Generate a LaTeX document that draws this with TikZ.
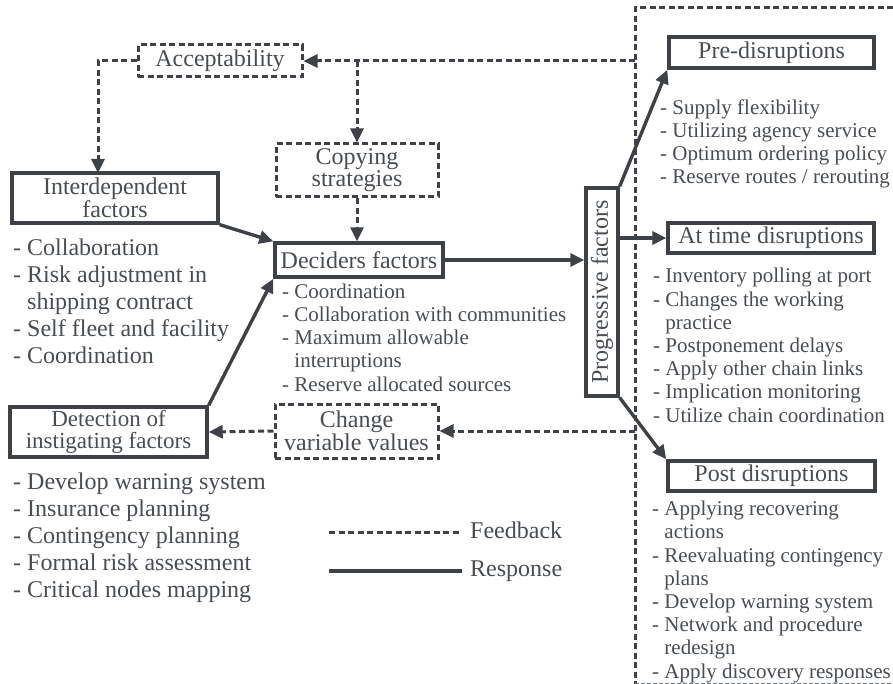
\documentclass[tikz,border=0pt]{standalone}
\usepackage{fontspec}
\setmainfont{Liberation Serif}
\usetikzlibrary{arrows.meta,calc}
\definecolor{dk}{RGB}{62,66,70}
\definecolor{txt}{RGB}{72,77,82}
\begin{document}
\begin{tikzpicture}[x=1pt,y=-1pt,
  titlefont/.style={font=\fontsize{24}{20}\selectfont},
  bigfont/.style={font=\fontsize{24}{27}\selectfont},
  smallfont/.style={font=\fontsize{21}{23.2}\selectfont},
  solidbox/.style={draw=dk,line width=3.4pt,text=txt,inner sep=0pt,align=center,titlefont},
  dashbox/.style={draw=dk,line width=3pt,dash pattern=on 6pt off 3.5pt,text=txt,inner sep=0pt,align=center,titlefont},
  listtext/.style={text=txt,inner sep=0pt,align=left,anchor=base west},
  tip/.style={-{Triangle[length=14pt,width=13pt]}},
  resp/.style={draw=dk,line width=3.4pt,tip},
  fb/.style={draw=dk,line width=3pt,dash pattern=on 6pt off 3.5pt,tip},
  fbline/.style={draw=dk,line width=3pt,dash pattern=on 6pt off 3.5pt},
]
\useasboundingbox (0,0) rectangle (893,684);

% boxes
\node[dashbox,minimum width=164pt,minimum height=32pt] (acc) at (220,61) {Acceptability};
\node[dashbox,minimum width=162pt,minimum height=53pt] (copy) at (357,170.5) {Copying\\strategies};
\node[solidbox,minimum width=206pt,minimum height=50pt] (inter) at (115,198) {Interdependent\\factors};
\node[solidbox,minimum width=168pt,minimum height=34pt] (dec) at (359,260) {Deciders factors};
\node[solidbox,rotate=90,minimum width=208pt,minimum height=32pt] (prog) at (602,292) {Progressive factors};
\node[solidbox,minimum width=205pt,minimum height=31pt] (pre) at (771.5,52.5) {Pre-disruptions};
\node[solidbox,minimum width=206pt,minimum height=30pt] (at) at (771,238) {At time disruptions};
\node[solidbox,minimum width=207pt,minimum height=30pt] (post) at (771.5,476) {Post disruptions};
\node[dashbox,minimum width=163pt,minimum height=54pt] (chg) at (356.5,431) {Change\\variable values};
\node[solidbox,minimum width=197pt,minimum height=50pt,font=\fontsize{23}{22.5}\selectfont] (det) at (108.5,432) {Detection of\\instigating factors};

% lists (anchored at the baseline of the last line)
\node[listtext,bigfont] (interlist) at (13,363) {- Collaboration\\- Risk adjustment in\\\hphantom{-}~shipping contract\\- Self fleet and facility\\- Coordination};
\node[listtext,bigfont] (detlist) at (13,597) {- Develop warning system\\- Insurance planning\\- Contingency planning\\- Formal risk assessment\\- Critical nodes mapping};
\node[listtext,smallfont] (declist) at (282,391) {- Coordination\\- Collaboration with communities\\- Maximum allowable\\\hphantom{-}~interruptions\\- Reserve allocated sources};
\node[listtext,smallfont] (prelist) at (660,184) {- Supply flexibility\\- Utilizing agency service\\- Optimum ordering policy\\- Reserve routes / rerouting};
\node[listtext,smallfont] (atlist) at (653,422) {- Inventory polling at port\\- Changes the working\\\hphantom{-}~practice\\- Postponement delays\\- Apply other chain links\\- Implication monitoring\\- Utilize chain coordination};
\node[listtext,smallfont] (postlist) at (652,678) {- Applying recovering\\\hphantom{-}~actions\\- Reevaluating contingency\\\hphantom{-}~plans\\- Develop warning system\\- Network and procedure\\\hphantom{-}~redesign\\- Apply discovery responses};

% right dashed boundary
\coordinate (bTR) at (893,8);
\coordinate (bTL) at (635,8);
\coordinate (bBL) at (635,684);
\coordinate (bBL2) at (635,683);
\coordinate (bBR) at (893,683);
\draw[fbline] (bTR) -- (bTL) -- (bBL);
\draw[draw=dk!70,line width=1pt,dash pattern=on 4pt off 2pt] (bBL2) -- (bBR);

% feedback connectors
\coordinate (fbA) at (635,61);
\coordinate (fbC) at (635,431);
\coordinate (k1) at (98,173);
\draw[fb] (fbA) -- (acc.east);
\draw[fb] (copy.north |- acc.east) -- (copy.north);
\draw[fb] (acc.west) -| (k1);
\draw[fb] (copy.south) -- (copy.south |- dec.north);
\draw[fb] (fbC) -- (chg.east);
\draw[fb] (chg.west) -- (det.east);

% response connectors
\draw[resp] (inter.south east) -- (dec.north west);
\draw[resp] (det.north east) -- (dec.south west);
\draw[resp] (dec.east) -- (prog.north |- dec.east);
\draw[resp] (prog.south east) -- (pre.south west);
\draw[resp] (prog.south |- at.west) -- (at.west);
\draw[resp] (prog.south west) -- (post.north west);

% legend
\coordinate (l1a) at (329,532);
\coordinate (l1b) at (462,532);
\coordinate (l2a) at (329,571);
\coordinate (l2b) at (462,571);
\draw[fbline] (l1a) -- (l1b);
\draw[draw=dk,line width=3.4pt] (l2a) -- (l2b);
\node[text=txt,inner sep=0pt,anchor=west,bigfont] (lfb) at (470,530) {Feedback};
\node[text=txt,inner sep=0pt,anchor=west,bigfont] (lrs) at (470,571) {Response};
\end{tikzpicture}
\end{document}
